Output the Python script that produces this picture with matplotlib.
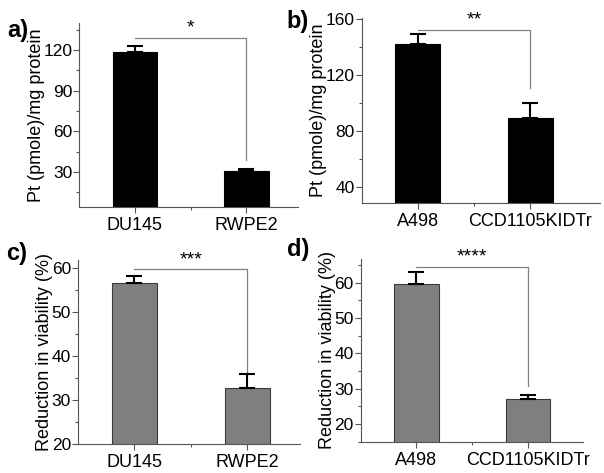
import numpy as np
import matplotlib
matplotlib.use("Agg")
import matplotlib.pyplot as plt
from matplotlib.ticker import MultipleLocator

plt.rcParams['font.family'] = ['Liberation Sans', 'DejaVu Sans']

# data
cells_prostate = ['DU145', 'RWPE2']
cells_kidney = ['A498', 'CCD1105KIDTr']
pt_prostate = [118.5, 31.0]
pt_prostate_err = [4.5, 1.2]
pt_kidney = [142.0, 89.5]
pt_kidney_err = [7.0, 10.5]
via_prostate = [56.8, 32.8]
via_prostate_err = [1.5, 3.2]
via_kidney = [59.6, 27.0]
via_kidney_err = [3.5, 1.2]
stars = ['*', '**', '***', '****']

fig = plt.figure(figsize=(6.04, 4.73), dpi=100)

panels = [
  # rect, cats, vals, errs, color, ylim, major, xmax, bracket (y, ydown), label, ylabel, tag pos
  ([0.131, 0.5624, 0.362, 0.389], cells_prostate, pt_prostate, pt_prostate_err, 'black',
   (4.2, 140), 30, 1.46, (128.9, 38.9), 'a)', 'Pt (pmole)/mg protein', (0.012, 0.935)),
  ([0.599, 0.571, 0.394, 0.391], cells_kidney, pt_kidney, pt_kidney_err, 'black',
   (28.6, 160.7), 40, 1.62, (152.1, 110.7), 'b)', 'Pt (pmole)/mg protein', (0.475, 0.955)),
  ([0.129, 0.061, 0.368, 0.389], cells_prostate, via_prostate, via_prostate_err, '#7f7f7f',
   (20, 61.9), 10, 1.47, (59.8, 36.2), 'c)', 'Reduction in viability (%)', (0.010, 0.465)),
  ([0.597, 0.066, 0.368, 0.386], cells_kidney, via_kidney, via_kidney_err, '#7f7f7f',
   (15, 66.6), 10, 1.49, (64.3, 30.7), 'd)', 'Reduction in viability (%)', (0.475, 0.472)),
]

for i, (rect, cats, vals, errs, col, ylim, major, xmax, br, tag, ylab, tpos) in enumerate(panels):
  ax = fig.add_axes(rect)
  x = np.arange(len(cats))
  ec = 'black' if col == 'black' else '#3a3a3a'
  ax.bar(x, vals, width=0.4, color=col, edgecolor=ec, linewidth=0.8, zorder=2)
  ax.errorbar(x, vals, yerr=[np.zeros(len(vals)), errs], fmt='none', ecolor='black',
              elinewidth=1.5, capsize=6, capthick=1.5, zorder=3)
  ax.set_xlim(-0.5, xmax)
  ax.set_ylim(*ylim)
  ax.yaxis.set_major_locator(MultipleLocator(major))
  ax.yaxis.set_minor_locator(MultipleLocator(major / 2))
  ax.set_xticks(x)
  ax.set_xticklabels(cats, fontsize=13)
  ax.set_xticks([0.5], minor=True)
  ax.tick_params(axis='y', labelsize=12.5, direction='out', length=4, width=0.8, color='#555555', pad=1)
  ax.tick_params(axis='x', direction='out', length=4, width=0.8, color='#555555', pad=3)
  ax.tick_params(which='minor', direction='out', length=2.5, width=0.8, color='#555555')
  ax.set_ylabel(ylab, fontsize=13, labelpad=-1)
  for s in ['top', 'right']:
    ax.spines[s].set_visible(False)
  for s in ['left', 'bottom']:
    ax.spines[s].set_color('#555555')
    ax.spines[s].set_linewidth(0.8)
  # significance bracket
  ax.plot([0, 1, 1], [br[0], br[0], br[1]], color='#808080', lw=0.9, clip_on=False, zorder=1)
  ax.annotate(stars[i], xy=(0.5, br[0]), xytext=(0, 1), textcoords='offset points',
              ha='center', va='bottom', fontsize=14, annotation_clip=False)
  fig.text(tpos[0], tpos[1], tag, fontsize=17, fontweight='bold', ha='left', va='center')

fig.savefig('out.png', dpi=100)
